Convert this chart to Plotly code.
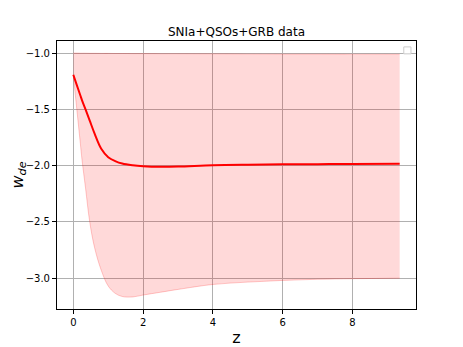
import plotly.graph_objects as go

# redshift grid and w_de reconstruction
z = [0, 0.1, 0.2, 0.25, 0.35, 0.47, 0.61, 0.8, 1.0, 1.2, 1.4, 1.7, 2.0, 2.5, 3.0, 4.0, 5.0, 6.0, 7.0, 8.0, 9.35]
w_mean = [-1.193, -1.285, -1.375, -1.42, -1.50, -1.60, -1.716, -1.85, -1.925, -1.96, -1.982, -1.997, -2.005, -2.01, -2.008,
          -1.997, -1.992, -1.989, -1.987, -1.985, -1.983]
w_upper = [-1.0, -1.0, -1.001, -1.001, -1.001, -1.002, -1.002, -1.003, -1.003, -1.004, -1.004, -1.005, -1.005, -1.006, -1.006,
           -1.007, -1.008, -1.009, -1.009, -1.010, -1.011]
w_lower = [-1.2, -1.5, -1.8, -1.95, -2.2, -2.50, -2.73, -2.93, -3.07, -3.135, -3.163, -3.167, -3.15, -3.125, -3.10,
           -3.056, -3.035, -3.02, -3.01, -3.005, -3.0]

x_ticks = [0, 2, 4, 6, 8]
y_ticks = [-1.0, -1.5, -2.0, -2.5, -3.0]

fig = go.Figure()

fig.add_trace(go.Scatter(x=z, y=w_upper, mode="lines", line=dict(color="rgba(255,0,0,0.3)", width=0.6, shape="spline"),
                         showlegend=False, hoverinfo="skip"))
fig.add_trace(go.Scatter(x=z, y=w_lower, mode="lines", fill="tonexty", fillcolor="rgba(255,0,0,0.15)",
                         line=dict(color="rgba(255,0,0,0.35)", width=0.6, shape="spline"),
                         showlegend=False, hoverinfo="skip"))
fig.add_trace(go.Scatter(x=z, y=w_mean, mode="lines", line=dict(color="red", width=2, shape="spline"), showlegend=False))

# empty legend box like matplotlib
fig.add_shape(type="rect", xref="paper", yref="paper", x0=0.966, x1=0.986, y0=0.952, y1=0.978,
              line=dict(color="#cccccc", width=1), fillcolor="white")

axis_common = dict(showline=True, linecolor="black", linewidth=1, mirror=True, ticks="outside", ticklen=4,
                   tickcolor="black", showgrid=True, gridcolor="#b0b0b0", gridwidth=0.8, zeroline=False,
                   tickfont=dict(size=10, color="black"), automargin=False)

fig.update_xaxes(range=[-0.4675, 9.8175], tickvals=x_ticks, title_text="z", title_font=dict(size=16, color="black"),
                 title_standoff=6, **axis_common)
fig.update_yaxes(range=[-3.274, -0.893], tickvals=y_ticks, tickformat=".1f",
                 title_text="<i>w</i><sub><i>de</i></sub>", title_font=dict(size=16, color="black"),
                 title_standoff=6, **axis_common)

# page body has an 8px margin, so the figure is sized to fit the window
fig.update_layout(
    width=455, height=339,
    margin=dict(l=49, r=47, t=33, b=38, autoexpand=False),
    paper_bgcolor="white", plot_bgcolor="white",
    font=dict(family="DejaVu Sans", color="black"),
    title=dict(text="SNIa+QSOs+GRB data", x=0.5, xref="paper", xanchor="center", y=1, yref="paper",
               yanchor="bottom", pad=dict(b=5), font=dict(size=12, color="black")),
)

fig.write_html("out.html")
